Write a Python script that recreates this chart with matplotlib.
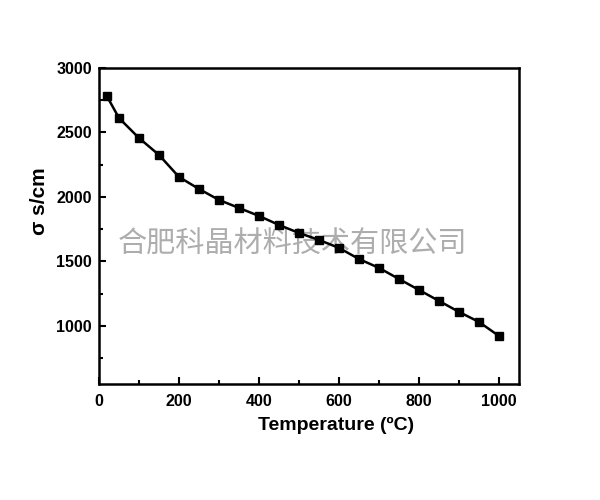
import matplotlib
matplotlib.use("Agg")
import matplotlib.pyplot as plt
from matplotlib.ticker import MultipleLocator

temperature = [20, 50, 100, 150, 200, 250, 300, 350, 400, 450, 500,
               550, 600, 650, 700, 750, 800, 850, 900, 950, 1000]
sigma = [2780, 2612, 2457, 2326, 2155, 2062, 1977, 1915, 1853, 1783, 1721,
         1667, 1605, 1519, 1450, 1364, 1279, 1194, 1109, 1031, 922]
x_ticks = [0, 200, 400, 600, 800, 1000]
y_ticks = [1000, 1500, 2000, 2500, 3000]
watermark = "合肥科晶材料技术有限公司"

plt.rcParams['font.family'] = ['Liberation Sans', 'DejaVu Sans']

fig = plt.figure(figsize=(6, 5), dpi=100)
ax = fig.add_axes([0.165, 0.232, 0.700, 0.632])

ax.plot(temperature, sigma, color='black', linewidth=1.8, marker='s',
        markersize=5.8, markerfacecolor='black', markeredgecolor='black',
        zorder=3)

ax.set_xlim(0, 1050)
ax.set_ylim(550, 3000)
ax.set_xticks(x_ticks)
ax.set_yticks(y_ticks)
ax.xaxis.set_minor_locator(MultipleLocator(100))
ax.yaxis.set_minor_locator(MultipleLocator(250))
ax.tick_params(which='both', direction='in', top=False, right=False, width=1.5)
ax.tick_params(which='major', length=5, labelsize=11.5)
ax.tick_params(axis='x', which='major', pad=7)
ax.tick_params(axis='y', which='major', pad=5)
ax.tick_params(which='minor', length=3)
for lbl in ax.get_xticklabels() + ax.get_yticklabels():
    lbl.set_fontweight('bold')
for s in ax.spines.values():
    s.set_linewidth(1.8)

ax.set_xlabel('Temperature (\u00baC)', fontsize=14, fontweight='bold')
ax.xaxis.set_label_coords(0.564, -0.105)
ax.set_ylabel('\u03c3 s/cm', fontsize=15, fontweight='bold')
ax.yaxis.set_label_coords(-0.12, 0.58)

ax.text(0.488, 0.51, watermark, fontsize=21, color='#adadad',
        family=['Noto Sans CJK SC', 'DejaVu Sans'], ha='center', va='center',
        fontweight='light', transform=fig.transFigure, zorder=1)

fig.savefig('out.png', dpi=100)
